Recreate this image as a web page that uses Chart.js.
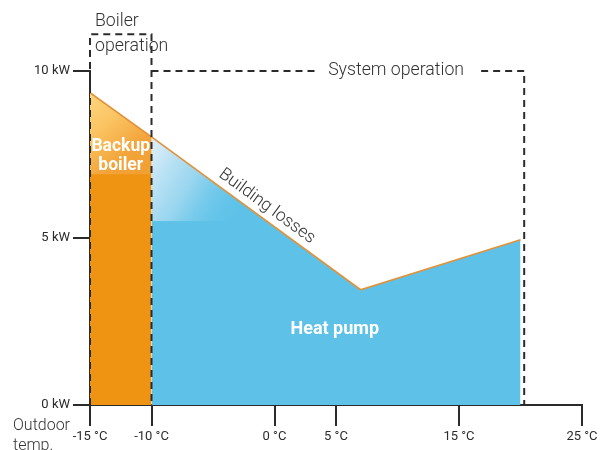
<!DOCTYPE html>
<html>
<head>
<meta charset="utf-8">
<script src="https://cdn.jsdelivr.net/npm/chart.js@4"></script>
<style>
  html, body { margin: 0; padding: 0; background: #fff; }
  #wrap { width: 609px; height: 450px; position: relative; }
</style>
</head>
<body>
<div id="wrap"><canvas id="chart"></canvas></div>
<script>
// Outdoor temperature (°C) vs building heat losses (kW)
const temps = [-15, -10, 7, 20];
const losses = [9.35, 8.03, 3.45, 4.95];

const xTicks = [-15, -10, 0, 5, 15, 25];
const yTicks = [0, 5, 10];

// dashed operation ranges
const boilerBoxX = [-15, -15, -10, -10];
const boilerBoxY = [0, 11.1, 11.1, 0];
const systemBoxX = [-10, 3.3, 10, 16.8, 20.3, 20.3];
const systemBoxY = [10, 10, null, 10, 10, 0];

const FONT = "Roboto, 'Noto Sans', sans-serif";
const INK = '#2b2b2b';
const ORANGE = '#EE9412';
const BLUE = '#5EC2E8';

const pts = (xs, ys) => xs.map((x, i) => ({ x, y: ys[i] }));
const lossPts = pts(temps, losses);
const boilerPts = lossPts.slice(0, 2);
const pumpPts = lossPts.slice(1);

function orangeGlow(context) {
  const chart = context.chart;
  const { x, y } = chart.scales;
  if (!chart.chartArea || !x || !y) return '#F5B04A';
  const g = chart.ctx.createLinearGradient(
    x.getPixelForValue(-15), y.getPixelForValue(9.4),
    x.getPixelForValue(-10), y.getPixelForValue(7.2));
  g.addColorStop(0, '#FFD67E');
  g.addColorStop(0.35, '#FBC565');
  g.addColorStop(0.75, '#F2A43A');
  g.addColorStop(1, '#F1A033');
  return g;
}

function blueGlow(context) {
  const chart = context.chart;
  const { x, y } = chart.scales;
  if (!chart.chartArea || !x || !y) return 'rgba(211,235,247,0.6)';
  const g = chart.ctx.createLinearGradient(
    x.getPixelForValue(-10), y.getPixelForValue(7.5),
    x.getPixelForValue(-2.5), y.getPixelForValue(5.8));
  g.addColorStop(0, 'rgba(214,236,248,1)');
  g.addColorStop(0.45, 'rgba(172,220,242,0.75)');
  g.addColorStop(1, 'rgba(94,194,232,0)');
  return g;
}

const dashed = {
  borderColor: INK,
  borderWidth: 2,
  borderDash: [7, 5],
  pointRadius: 0,
  fill: false,
  clip: false,
  spanGaps: false,
  order: 1,
};

const labelsPlugin = {
  id: 'labels',
  afterDatasetsDraw(chart) {
    const { ctx } = chart;
    const { x, y } = chart.scales;
    ctx.save();
    ctx.textBaseline = 'middle';

    // operation headers
    ctx.fillStyle = '#333';
    ctx.font = `300 17.7px ${FONT}`;
    ctx.textAlign = 'left';
    const bx = x.getPixelForValue(-15) + 5;
    const by = y.getPixelForValue(11.1);
    ctx.fillText('Boiler', bx, by - 13);
    ctx.fillText('operation', bx, by + 12);
    ctx.textAlign = 'center';
    ctx.fillText('System operation',
      (x.getPixelForValue(3.3) + x.getPixelForValue(16.8)) / 2 - 2,
      y.getPixelForValue(10));

    // axis title
    ctx.textAlign = 'left';
    ctx.font = `300 16px ${FONT}`;
    const y0 = y.getPixelForValue(0);
    ctx.fillText('Outdoor', 13, y0 + 21);
    ctx.fillText('temp.', 13, y0 + 41);

    // building losses, along the line
    const p1 = { x: x.getPixelForValue(temps[1]), y: y.getPixelForValue(losses[1]) };
    const p2 = { x: x.getPixelForValue(temps[2]), y: y.getPixelForValue(losses[2]) };
    const ang = Math.atan2(p2.y - p1.y, p2.x - p1.x);
    const t = (-1.2 - temps[1]) / (temps[2] - temps[1]);
    const cx = p1.x + (p2.x - p1.x) * t;
    const cy = p1.y + (p2.y - p1.y) * t;
    ctx.save();
    ctx.translate(cx, cy);
    ctx.rotate(ang);
    ctx.font = `300 17.5px ${FONT}`;
    ctx.textAlign = 'center';
    ctx.fillText('Building losses', 0, -12);
    ctx.restore();

    // area labels
    ctx.fillStyle = '#fff';
    ctx.textAlign = 'center';
    ctx.font = `bold 17.5px ${FONT}`;
    const mx = x.getPixelForValue(-12.5);
    const my = y.getPixelForValue(7.5);
    ctx.fillText('Backup', mx, my - 8);
    ctx.fillText('boiler', mx, my + 11);
    ctx.font = `bold 18px ${FONT}`;
    ctx.fillText('Heat pump', x.getPixelForValue(4.9), y.getPixelForValue(2.25));
    ctx.restore();
  },
};

new Chart(document.getElementById('chart'), {
  type: 'line',
  data: {
    datasets: [
      {
        label: 'Backup boiler',
        data: boilerPts,
        backgroundColor: ORANGE,
        borderWidth: 0,
        pointRadius: 0,
        fill: 'origin',
        order: 5,
      },
      {
        label: 'Heat pump',
        data: pumpPts,
        backgroundColor: BLUE,
        borderWidth: 0,
        pointRadius: 0,
        fill: 'origin',
        order: 5,
      },
      {
        label: 'boiler glow',
        data: boilerPts,
        backgroundColor: orangeGlow,
        borderWidth: 0,
        pointRadius: 0,
        fill: { target: { value: 6.9 }, below: 'rgba(0,0,0,0)' },
        order: 4,
      },
      {
        label: 'pump glow',
        data: pumpPts.slice(0, 2),
        backgroundColor: blueGlow,
        borderWidth: 0,
        pointRadius: 0,
        fill: { target: { value: 5.5 }, below: 'rgba(0,0,0,0)' },
        order: 4,
      },
      {
        label: 'Building losses',
        data: lossPts,
        borderColor: '#E2923A',
        borderWidth: 1.6,
        pointRadius: 0,
        fill: false,
        order: 2,
      },
      { label: 'Boiler operation', data: pts(boilerBoxX, boilerBoxY), ...dashed },
      { label: 'System operation', data: pts(systemBoxX, systemBoxY), ...dashed },
    ],
  },
  options: {
    responsive: true,
    maintainAspectRatio: false,
    animation: false,
    layout: { padding: { top: 71, right: 27, left: 0, bottom: 0 } },
    plugins: {
      legend: { display: false },
      tooltip: { enabled: false },
    },
    scales: {
      x: {
        type: 'linear',
        min: -15,
        max: 25,
        afterBuildTicks: s => { s.ticks = xTicks.map(v => ({ value: v })); },
        afterFit: s => { s.height = 45; },
        grid: { drawOnChartArea: false, tickLength: 21, color: INK, lineWidth: 2 },
        border: { display: true, color: INK, width: 2 },
        ticks: {
          color: INK,
          padding: 3,
          maxRotation: 0,
          font: { family: FONT, size: 13 },
          callback: v => v + ' °C',
        },
      },
      y: {
        min: 0,
        max: 10,
        afterBuildTicks: s => { s.ticks = yTicks.map(v => ({ value: v })); },
        afterFit: s => { s.width = 90; },
        grid: { drawOnChartArea: false, tickLength: 17, color: INK, lineWidth: 2 },
        border: { display: true, color: INK, width: 2 },
        ticks: {
          color: INK,
          padding: 3,
          font: { family: FONT, size: 13 },
          callback: v => v + ' kW',
        },
      },
    },
  },
  plugins: [labelsPlugin],
});
</script>
</body>
</html>
